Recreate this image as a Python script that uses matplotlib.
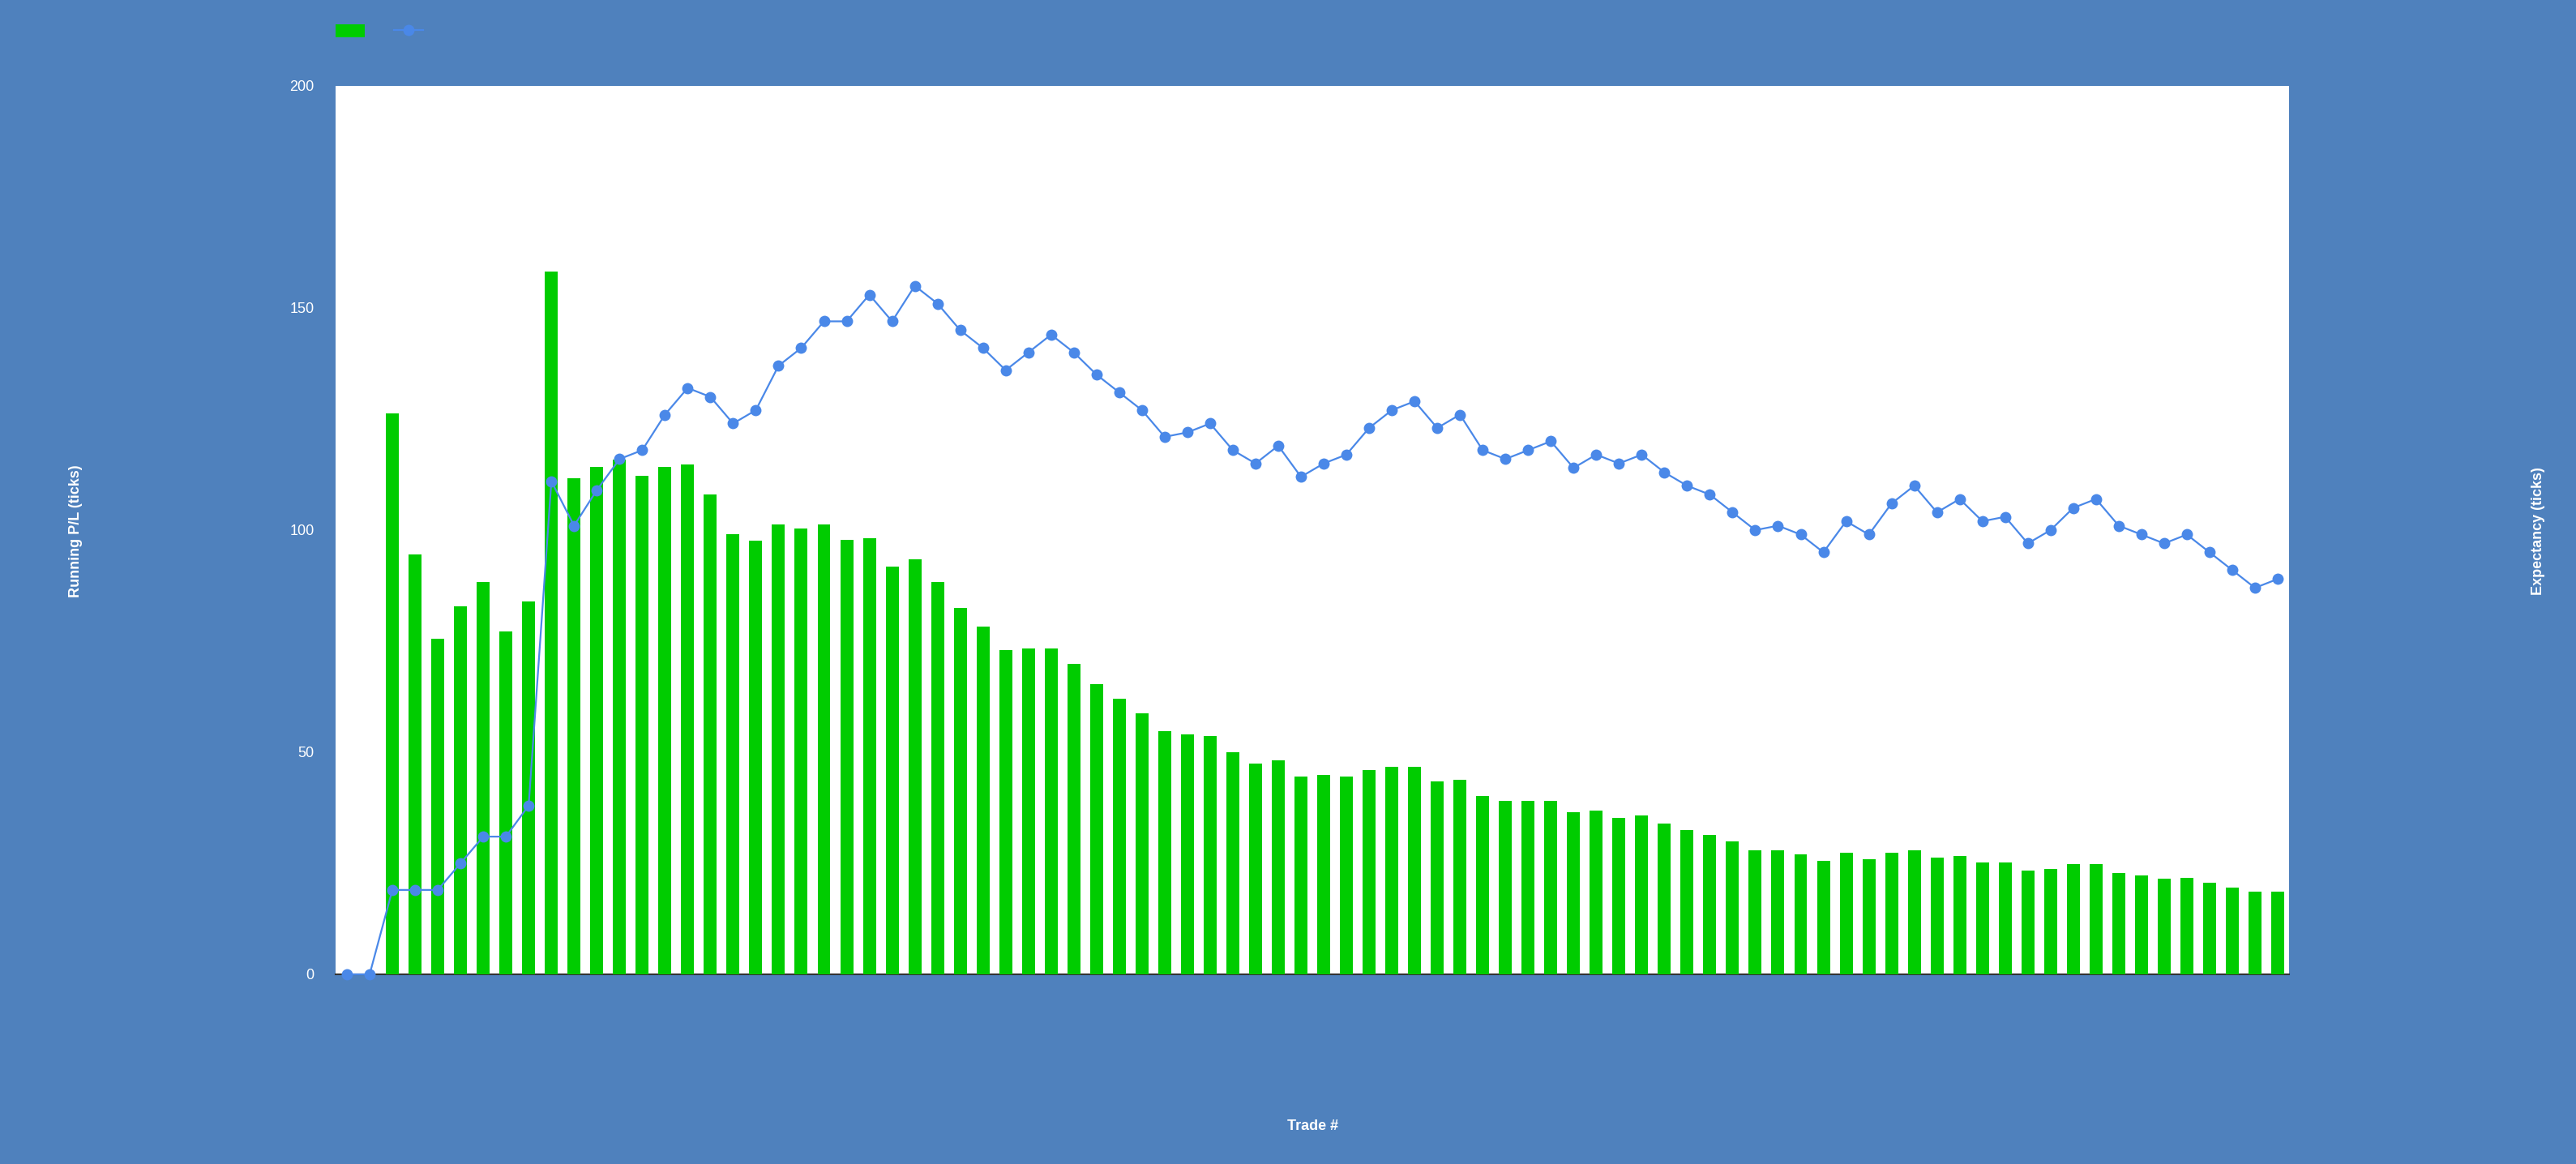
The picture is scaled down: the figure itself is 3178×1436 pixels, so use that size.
import numpy as np
import matplotlib
matplotlib.use("Agg")
import matplotlib.pyplot as plt

plt.rcParams['font.family'] = ['Liberation Sans', 'DejaVu Sans']

# running P/L per trade (bars) and expectancy (line)
trades = np.arange(86)
running_pl = [0, 0, 126.3, 94.6, 75.6, 82.9, 88.4, 77.1, 83.9, 158.2,
              111.7, 114.3, 115.9, 112.2, 114.3, 114.7, 108.1, 99.0, 97.6, 101.2,
              100.4, 101.2, 97.9, 98.2, 91.7, 93.5, 88.4, 82.5, 78.2, 73.0,
              73.4, 73.4, 69.8, 65.3, 62.0, 58.8, 54.7, 54.0, 53.6, 50.0,
              47.4, 48.2, 44.5, 44.9, 44.5, 46.0, 46.7, 46.7, 43.4, 43.8,
              40.1, 39.0, 39.0, 39.0, 36.5, 36.9, 35.3, 35.8, 33.9, 32.5,
              31.4, 29.9, 28.0, 28.0, 27.0, 25.5, 27.4, 25.9, 27.4, 28.0,
              26.3, 26.6, 25.2, 25.2, 23.3, 23.7, 24.8, 24.8, 22.9, 22.3,
              21.5, 21.8, 20.7, 19.6, 18.6, 18.6]
expectancy = [0, 0, 19, 19, 19, 25, 31, 31, 38, 111,
              101, 109, 116, 118, 126, 132, 130, 124, 127, 137,
              141, 147, 147, 153, 147, 155, 151, 145, 141, 136,
              140, 144, 140, 135, 131, 127, 121, 122, 124, 118,
              115, 119, 112, 115, 117, 123, 127, 129, 123, 126,
              118, 116, 118, 120, 114, 117, 115, 117, 113, 110,
              108, 104, 100, 101, 99, 95, 102, 99, 106, 110,
              104, 107, 102, 103, 97, 100, 105, 107, 101, 99,
              97, 99, 95, 91, 87, 89]
yticks = [0, 50, 100, 150, 200]

bg = '#4F81BD'
W, H = 3178, 1436
fig = plt.figure(figsize=(W / 100, H / 100), dpi=100, facecolor=bg)

# plot area in pixels: left 414, right 2824, top 106, bottom 1202
ax = fig.add_axes([414 / W, (H - 1202) / H, (2824 - 414) / W, (1202 - 106) / H])
ax.set_facecolor('white')

bars = ax.bar(trades, running_pl, width=0.57, color='#00CC00', zorder=2)
ax.set_xlim(-0.5, len(trades) - 0.5)
ax.set_ylim(0, 200)
ax.set_yticks(yticks)
ax.set_xticks([])
ax.tick_params(axis='y', length=0, pad=19, labelsize=13, labelcolor='white')
for s in ['top', 'left', 'right']:
    ax.spines[s].set_visible(False)
ax.spines['bottom'].set_color('#333333')
ax.spines['bottom'].set_linewidth(1.5)
ax.spines['bottom'].set_zorder(1)

ax2 = ax.twinx()
ax2.set_ylim(0, 200)
ax2.set_yticks([])
for s in ax2.spines.values():
    s.set_visible(False)
line, = ax2.plot(trades, expectancy, color='#4A88E8', lw=1.6, marker='o',
                 markersize=10, markeredgewidth=0, clip_on=False, zorder=3)

# axis titles
fig.text(94 / W, 1 - 655 / H, 'Running P/L (ticks)', rotation=90, color='white',
         fontsize=13, fontweight='bold', ha='center', va='center')
fig.text(3131 / W, 1 - 655 / H, 'Expectancy (ticks)', rotation=90, color='white',
         fontsize=13, fontweight='bold', ha='center', va='center')
fig.text(1619 / W, 1 - 1389 / H, 'Trade #', color='white',
         fontsize=13, fontweight='bold', ha='center', va='center')

# legend with no text, as in the original
fig.legend([bars, line], ['', ''], loc='center left',
           bbox_to_anchor=(414 / W, 1 - 39 / H), ncol=2, frameon=False,
           fontsize=13, handlelength=2.0, handleheight=1.0, handletextpad=0,
           columnspacing=2.0, borderpad=0, borderaxespad=0)

fig.savefig('out.png', dpi=100, facecolor=bg)
